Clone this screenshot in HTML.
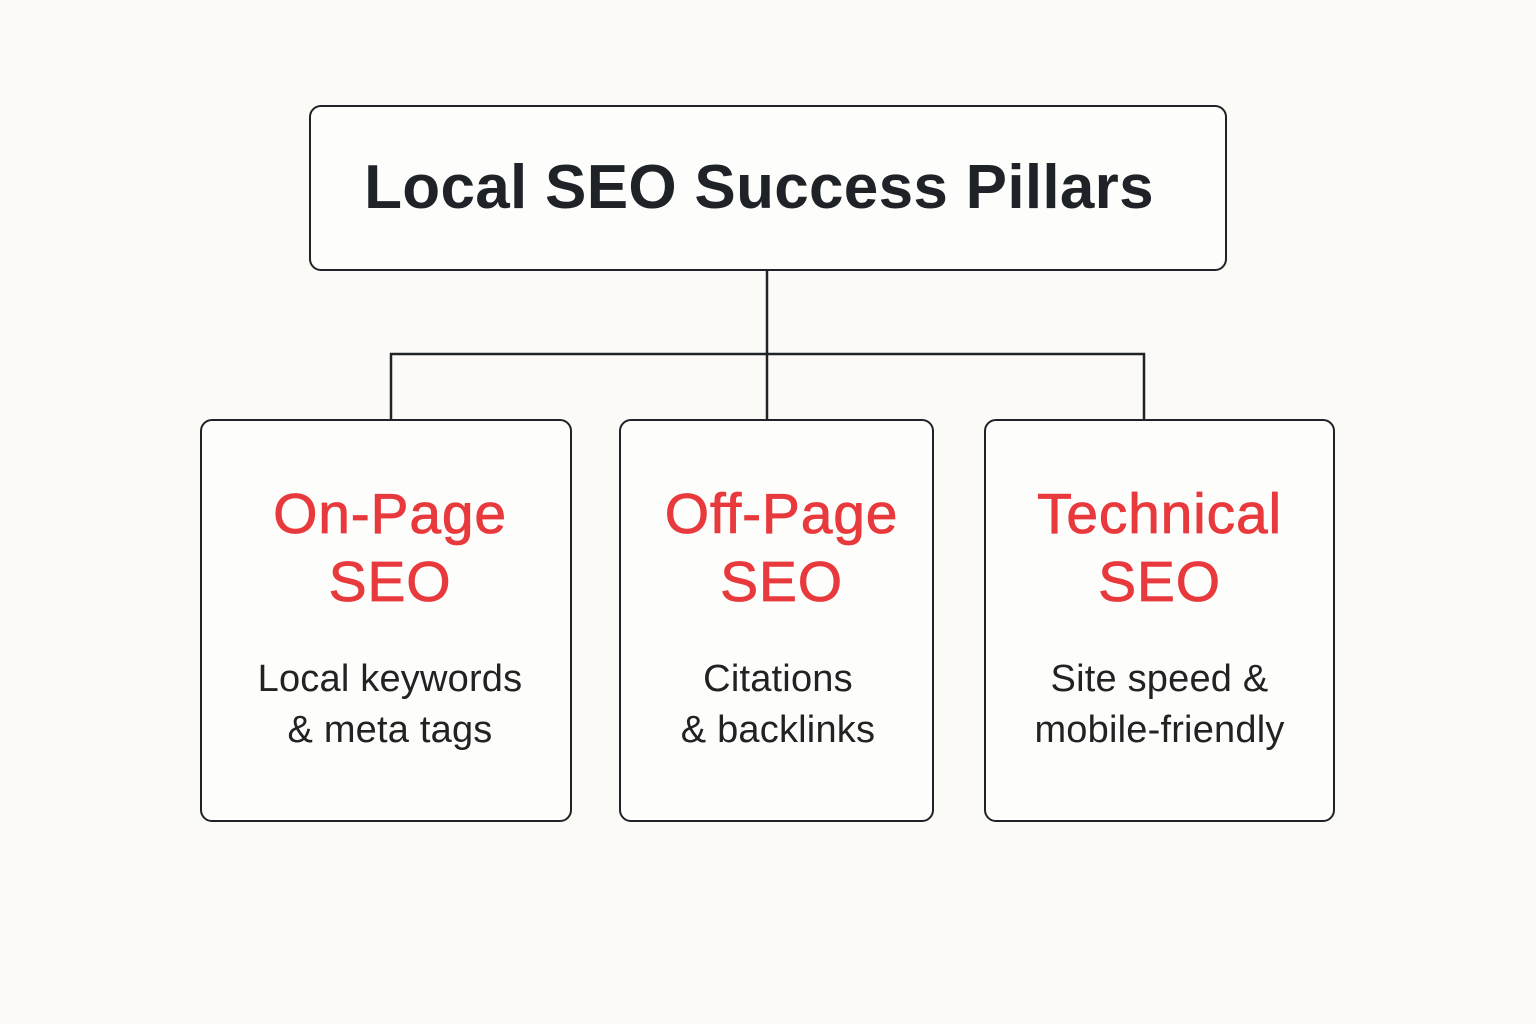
<!DOCTYPE html>
<html><head><meta charset="utf-8"><style>
body{margin:0;width:1536px;height:1024px;background:#fbfaf7;font-family:"Liberation Sans",sans-serif;position:relative;overflow:hidden}
.b{position:absolute;box-sizing:border-box;border:2.5px solid #1f2328;border-radius:12px;background:#fdfdfc}
.t{position:absolute;left:0;right:0;text-align:center;color:#1f2328}
.r{color:#e8393c;font-size:57px;line-height:68px;top:480px;letter-spacing:0.8px;-webkit-text-stroke:0.8px #e8393c}
.s{font-size:38px;line-height:51px;top:654px;color:#222;letter-spacing:0.2px}
</style></head><body>
<svg width="1536" height="1024" style="position:absolute;left:0;top:0">
<g stroke="#1f2328" stroke-width="2.5" fill="none">
<line x1="767" y1="270" x2="767" y2="420"/>
<polyline points="391,420 391,354 1144,354 1144,420"/>
</g></svg>
<div class="b" style="left:309px;top:105px;width:918px;height:166px"></div>
<div class="t" style="left:309px;width:900px;top:152px;font-size:62px;font-weight:bold;line-height:72px;letter-spacing:0.3px">Local SEO Success Pillars</div>
<div class="b" style="left:200px;top:419px;width:372px;height:403px"></div>
<div class="b" style="left:619px;top:419px;width:315px;height:403px"></div>
<div class="b" style="left:984px;top:419px;width:351px;height:403px"></div>
<div class="t r" style="left:200px;width:380px;right:auto">On-Page<br>SEO</div>
<div class="t r" style="left:619px;width:325px;right:auto">Off-Page<br>SEO</div>
<div class="t r" style="left:984px;width:351px;right:auto">Technical<br>SEO</div>
<div class="t s" style="left:200px;width:380px;right:auto">Local keywords<br>&amp; meta tags</div>
<div class="t s" style="left:619px;width:318px;right:auto">Citations<br>&amp; backlinks</div>
<div class="t s" style="left:984px;width:351px;right:auto">Site speed &amp;<br>mobile-friendly</div>
</body></html>
